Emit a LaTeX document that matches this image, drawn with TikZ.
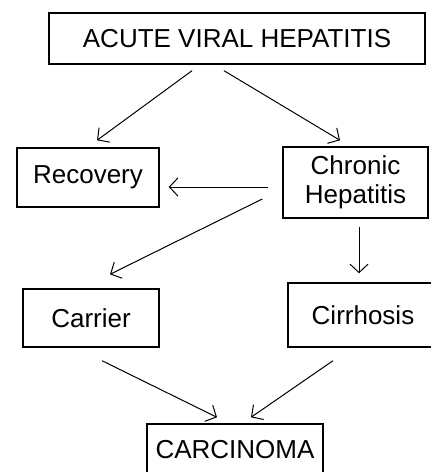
\documentclass[tikz,border=0pt]{standalone}
\usepackage{fontspec}
\setmainfont{Liberation Sans}
\usetikzlibrary{arrows.meta,calc}
\tikzset{
  box/.style={draw=black, line width=1.4pt, rectangle, inner sep=0pt, align=center,
    font=\fontsize{26}{29.5}\selectfont},
  arr/.style={line width=1pt, -{Straight Barb[length=8.5pt,width=18pt,line width=1pt]}}
}
\begin{document}
\begin{tikzpicture}[x=1pt,y=-1pt]
\useasboundingbox (0,0) rectangle (431,472);
\clip (0,0) rectangle (431,472);
\node[box, minimum width=376pt, minimum height=51pt] (top) at (237,38.5) {ACUTE VIRAL HEPATITIS};
\node[box, minimum width=142pt, minimum height=59pt] (rec) at (88,177.5) {Recovery};
\node[box, minimum width=145pt, minimum height=71pt] (chr) at (355.5,182.5) {Chronic\\Hepatitis};
\node[box, minimum width=136pt, minimum height=58pt] (car) at (91,318) {Carrier};
\node[box, minimum width=150pt, minimum height=64pt] (cir) at (363,315) {Cirrhosis};
\node[box, minimum width=176pt, minimum height=52pt] (carc) at (235,450) {CARCINOMA};

\draw[arr] ($(top.south)+(-45,6)$) -- ($(rec.north)+(9,-7)$);
\draw[arr] ($(top.south)+(-13,6)$) -- ($(chr.north)+(-15.5,-6)$);
\draw[arr] ($(chr.west)+(-14,4.5)$) -- ($(rec.east)+(9,9.5)$);
\draw[arr] ($(chr.west)+(-20,16.5)$) -- ($(car.north)+(19,-14)$);
\draw[arr] ($(chr.south)+(3.5,8)$) -- ($(cir.north)+(-4,-9)$);
\draw[arr] ($(car.south)+(11,13)$) -- ($(carc.north)+(-18,-6)$);
\draw[arr] ($(cir.south)+(-30,13)$) -- ($(carc.north)+(16,-6)$);
\end{tikzpicture}
\end{document}
